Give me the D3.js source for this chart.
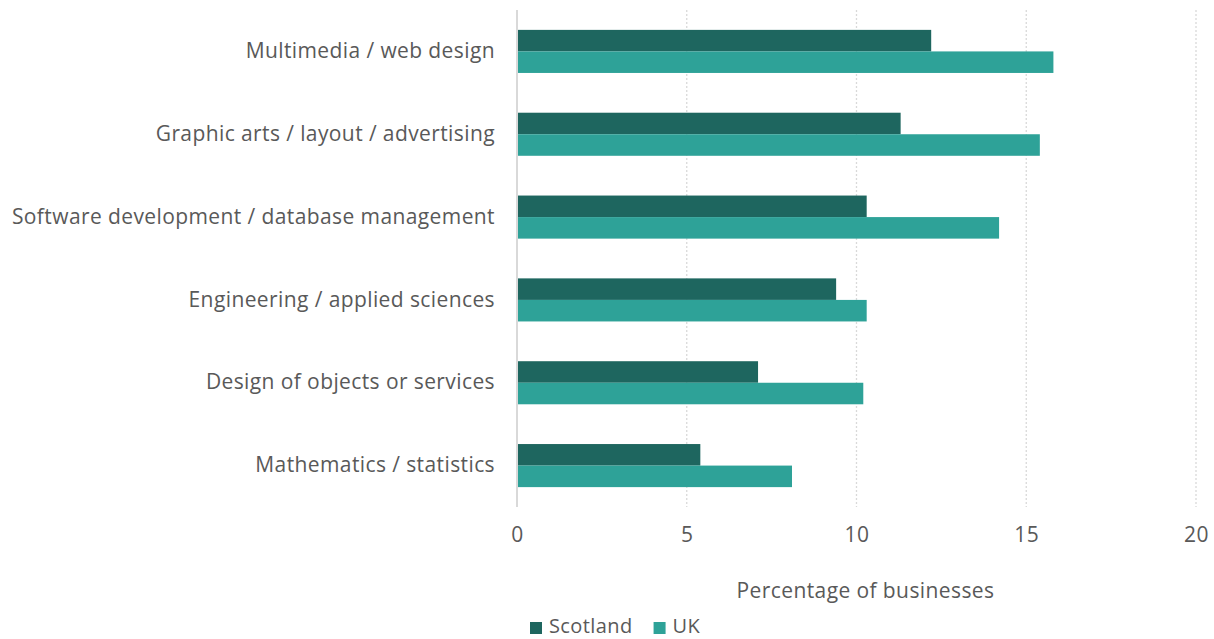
<!DOCTYPE html>
<html>
<head>
<meta charset="utf-8">
<script src="https://cdn.jsdelivr.net/npm/d3@7"></script>
<style>
  html, body { margin: 0; padding: 0; background: #fff; }
  svg { display: block; font-family: "Open Sans", "Noto Sans", sans-serif; }
  .lbl { font-size: 21px; letter-spacing: 0.4px; }
</style>
</head>
<body>
<svg id="chart" width="1214" height="639"></svg>
<script>
// Skills categories, top to bottom
const categories = [
  "Multimedia / web design",
  "Graphic arts / layout / advertising",
  "Software development / database management",
  "Engineering / applied sciences",
  "Design of objects or services",
  "Mathematics / statistics"
];
const seriesNames = ["Scotland", "UK"];
const scotland = [12.2, 11.3, 10.3, 9.4, 7.1, 5.4];
const uk = [15.8, 15.4, 14.2, 10.3, 10.2, 8.1];
const xTicks = [0, 5, 10, 15, 20];
const xTitle = "Percentage of businesses";

const colors = { Scotland: "#1e665f", UK: "#2ea298" };
const textColor = "#595959";

const svg = d3.select("#chart");
const margin = { left: 517, right: 18, top: 10, bottom: 132 };
const W = 1214, H = 639;

const x = d3.scaleLinear().domain([0, 20]).range([margin.left, W - margin.right]);
const y = d3.scaleBand().domain(categories).range([margin.top, H - margin.bottom]).paddingInner(0.48).paddingOuter(0.24);
const ySeries = d3.scaleBand().domain(seriesNames).range([0, y.bandwidth()]);

const rows = categories.map((c, i) => ({ cat: c, Scotland: scotland[i], UK: uk[i] }));

// dotted vertical gridlines
svg.append("g")
  .selectAll("line")
  .data(xTicks.filter(t => t > 0))
  .join("line")
  .attr("x1", d => x(d)).attr("x2", d => x(d))
  .attr("y1", margin.top).attr("y2", H - margin.bottom)
  .attr("stroke", "#d9d9d9").attr("stroke-width", 1.3)
  .attr("stroke-dasharray", "2,2");

// bars
const groups = svg.append("g").selectAll("g")
  .data(rows).join("g")
  .attr("transform", d => `translate(0,${y(d.cat)})`);

groups.selectAll("rect")
  .data(d => seriesNames.map(s => ({ s, v: d[s] })))
  .join("rect")
  .attr("x", x(0))
  .attr("y", d => ySeries(d.s))
  .attr("width", d => x(d.v) - x(0))
  .attr("height", ySeries.bandwidth())
  .attr("fill", d => colors[d.s]);

// zero axis line
svg.append("line")
  .attr("x1", x(0)).attr("x2", x(0))
  .attr("y1", margin.top).attr("y2", H - margin.bottom)
  .attr("stroke", "#d9d9d9").attr("stroke-width", 2);

// category labels
const yAxis = d3.axisLeft(y).tickSize(0).tickPadding(22);
svg.append("g")
  .attr("transform", `translate(${x(0)},0)`)
  .call(yAxis)
  .call(g => g.select(".domain").remove())
  .call(g => g.selectAll("text")
    .attr("class", "lbl")
    .attr("fill", textColor)
    .style("font-family", "'Open Sans', sans-serif"));

// x tick labels
const xAxis = d3.axisBottom(x).tickValues(xTicks).tickSize(0).tickPadding(20).tickFormat(d3.format("d"));
svg.append("g")
  .attr("transform", `translate(0,${H - margin.bottom})`)
  .call(xAxis)
  .call(g => g.select(".domain").remove())
  .call(g => g.selectAll("text")
    .attr("class", "lbl")
    .attr("fill", textColor)
    .style("font-family", "'Open Sans', sans-serif"));

// axis title
svg.append("text")
  .attr("class", "lbl")
  .attr("x", (x(0) + x(20)) / 2 + 9)
  .attr("y", 598)
  .attr("text-anchor", "middle")
  .attr("fill", textColor)
  .text(xTitle);

// legend
const legend = svg.append("g").attr("transform", "translate(530,627)");
let lx = 0;
seriesNames.forEach(s => {
  const item = legend.append("g").attr("transform", `translate(${lx},0)`);
  item.append("rect").attr("x", 0).attr("y", -5).attr("width", 12).attr("height", 12).attr("fill", colors[s]);
  const t = item.append("text").attr("class", "lbl").attr("x", 19).attr("y", 6)
    .style("font-size", "20px")
    .attr("fill", textColor).text(s);
  lx += 19 + t.node().getComputedTextLength() + 21;
});
</script>
</body>
</html>
